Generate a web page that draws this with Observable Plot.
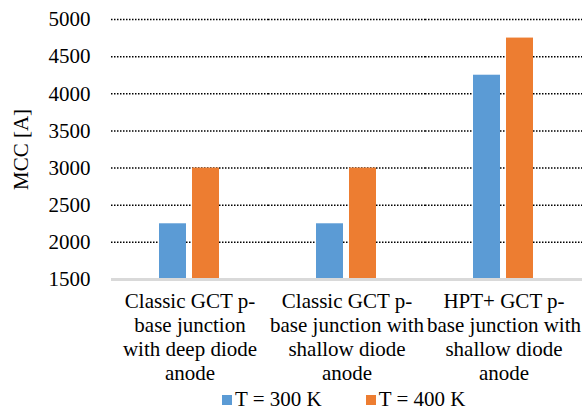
<!DOCTYPE html>
<html><head><meta charset="utf-8">
<script src="https://cdn.jsdelivr.net/npm/d3@7"></script>
<script src="https://cdn.jsdelivr.net/npm/@observablehq/plot@0.6"></script>
<style>
body{margin:0;background:#fff;font-family:"Liberation Serif","Times New Roman",serif;}
#legend{display:flex;align-items:center;margin-left:222px;font-size:21px;height:29px;color:#000;}
.item{display:flex;align-items:center;margin-right:44px;}
.sw{width:10px;height:10px;margin-right:3px;}
svg text{font-family:"Liberation Serif","Times New Roman",serif;font-variant-numeric:normal;}
</style></head>
<body><div id="chart"></div><div id="legend"></div>
<script>
const categories = [
  "Classic GCT p-\nbase junction\nwith deep diode\nanode",
  "Classic GCT p-\nbase junction with\nshallow diode\nanode",
  "HPT+ GCT p-\nbase junction with\nshallow diode\nanode"
];
const seriesNames = ["T = 300 K", "T = 400 K"];
const seriesColors = ["#5b9bd5", "#ed7d31"];
const values300 = [2250, 2250, 4250];
const values400 = [3000, 3000, 4750];
const yTicks = [1500, 2000, 2500, 3000, 3500, 4000, 4500, 5000];
const yLabel = "MCC [A]";

const data = [];
categories.forEach((c, i) => {
  data.push({category: c, series: seriesNames[0], value: values300[i]});
  data.push({category: c, series: seriesNames[1], value: values400[i]});
});

const serif = "Liberation Serif, Times New Roman, serif";
const plot = Plot.plot({
  width: 583, height: 385,
  marginLeft: 111, marginRight: 1, marginTop: 19, marginBottom: 106,
  style: {fontFamily: serif, fontSize: "21px", color: "#000", background: "#fff"},
  fx: {domain: categories, paddingInner: 0, paddingOuter: 0, axis: null},
  x: {domain: seriesNames, paddingInner: 0.176, paddingOuter: 1.4, axis: null},
  y: {domain: [1500, 5000], ticks: yTicks},
  color: {domain: seriesNames, range: seriesColors},
  marks: [
    Plot.ruleY(yTicks.slice(1), {stroke: "#000", strokeWidth: 1.5, strokeDasharray: "1.5,1.5"}),
    Plot.barY(data, {fx: "category", x: "series", y1: 1500, y2: "value", fill: "series"}),
    Plot.ruleY([1500], {stroke: "#d9d9d9", strokeWidth: 3}),
    Plot.axisY({ticks: yTicks, tickSize: 0, tickPadding: 21, fontSize: 21, fontFamily: serif, tickFormat: d => String(d), label: null}),
    Plot.text([yLabel], {text: d => d, frameAnchor: "left", textAnchor: "middle", rotate: -90, dx: -90, fontSize: 21, fontFamily: serif, facetAnchor: "left"}),
    Plot.text(categories, {fx: d => d, text: d => d, frameAnchor: "bottom", lineAnchor: "top", dy: 12, lineHeight: 1.13, fontSize: 21, fontFamily: serif})
  ]
});
document.getElementById("chart").appendChild(plot);

const lg = document.getElementById("legend");
seriesNames.forEach((s, i) => {
  const it = document.createElement("div"); it.className = "item";
  const sw = document.createElement("div"); sw.className = "sw"; sw.style.background = seriesColors[i];
  const t = document.createElement("span"); t.textContent = s;
  it.appendChild(sw); it.appendChild(t); lg.appendChild(it);
});
</script></body></html>
